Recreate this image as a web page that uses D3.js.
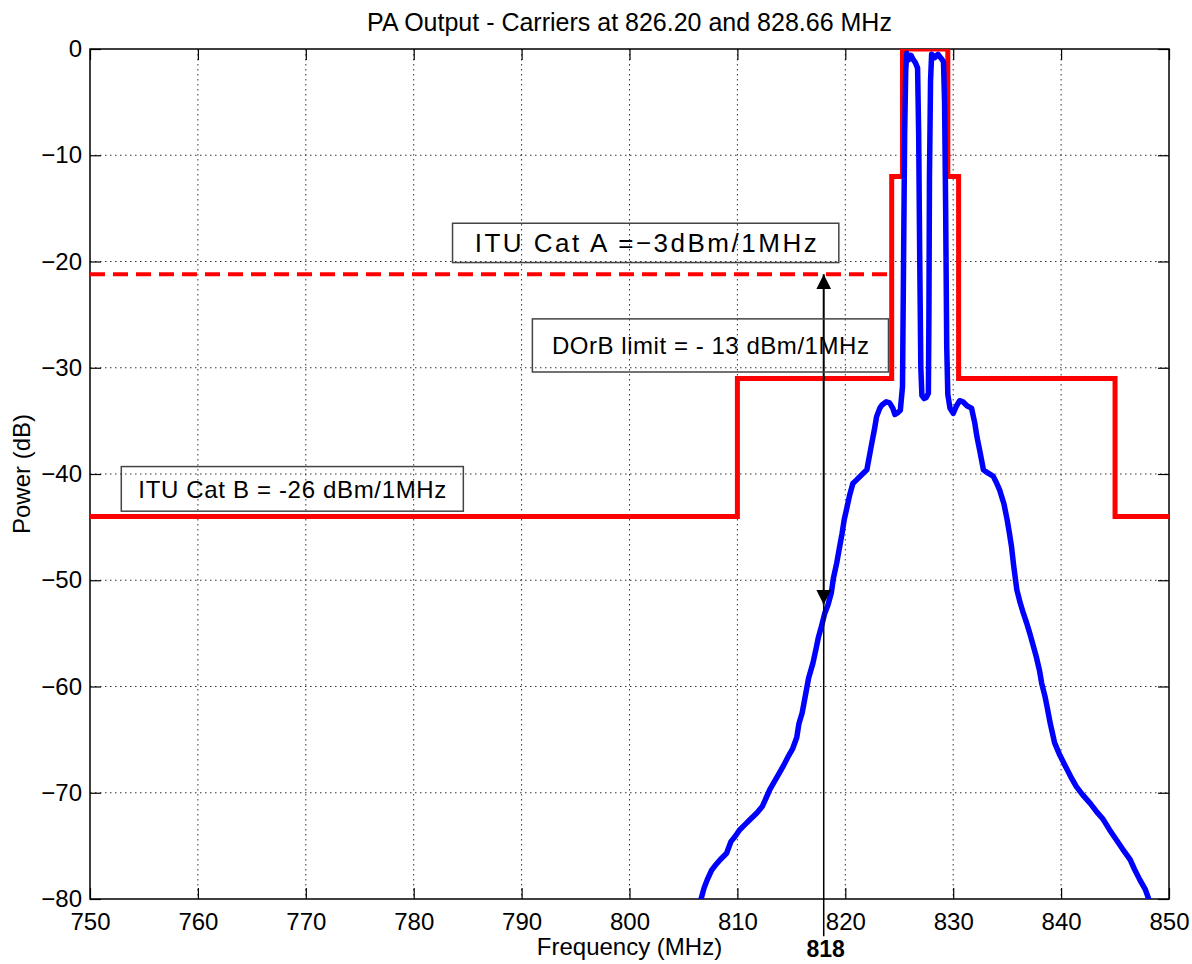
<!DOCTYPE html>
<html>
<head>
<meta charset="utf-8">
<script src="https://cdn.jsdelivr.net/npm/d3@7"></script>
<style>
 body { margin: 0; background: #fff; }
 svg { display: block; font-family: "Liberation Sans", Arial, sans-serif; }
 .axis text { font-size: 24px; fill: #000; }
 .axis line { stroke: #000; stroke-width: 1.2; }
 .grid line { stroke: #333; stroke-width: 1; stroke-dasharray: 1.5, 3.5; }
 .note { fill: none; stroke: #444; stroke-width: 1.5; }
</style>
</head>
<body>
<svg width="1192" height="964"></svg>
<script>
// x / y ticks
const freqTicks = [750, 760, 770, 780, 790, 800, 810, 820, 830, 840, 850];
const powerTicks = [-80, -70, -60, -50, -40, -30, -20, -10, 0];

// spectral mask (step after each breakpoint)
const maskFreq = [750, 810, 824.3, 825.3, 829.5, 830.5, 845, 850];
const maskLevel = [-44, -31, -12, 0, -12, -31, -44, -44];

// ITU cat A limit (dashed)
const catAFreq = [750, 824.2];
const catALevel = [-21.2, -21.2];

// measured PA output
const specFreq = [
 806.5, 806.9, 807.2, 807.6, 807.9, 808.4, 809.0, 809.4, 809.8, 810.2,
 810.7, 811.2, 811.8, 812.3, 812.7, 813.0, 813.4, 813.8, 814.3, 814.7,
 815.1, 815.5, 815.7, 816.0, 816.4, 816.6, 817.0, 817.3, 817.5, 817.8,
 818.1, 818.4, 818.7, 818.9, 819.2, 819.5, 819.7, 819.9, 820.1, 820.4,
 820.7, 821.0, 821.5, 822.0, 822.2, 822.4, 822.7, 822.9, 823.2, 823.4,
 823.8, 824.1, 824.4, 824.6, 824.9, 825.1, 825.3, 825.4, 825.5, 825.6,
 825.7, 825.9, 826.1, 826.3, 826.5, 826.7, 826.8, 826.9, 827.0, 827.1,
 827.3, 827.5, 827.7, 827.75, 827.8, 827.9, 828.0, 828.3, 828.6, 828.9,
 829.1, 829.2, 829.3, 829.4, 829.5, 829.7, 830.0, 830.3, 830.6, 830.9,
 831.3, 831.7, 832.0, 832.2, 832.5, 832.8, 833.2, 833.7, 834.0, 834.3,
 834.7, 835.0, 835.2, 835.4, 835.6, 835.9, 836.2, 836.5, 836.8, 837.1,
 837.4, 837.7, 838.0, 838.2, 838.5, 838.7, 839.0, 839.4, 839.9, 840.4,
 840.9, 841.4, 842.0, 842.7, 843.3, 843.9, 844.5, 845.1, 845.7, 846.4,
 846.8, 847.3, 847.8, 848.3
];
const specLevel = [
 -80.5, -79.0, -78.2, -77.3, -76.9, -76.3, -75.7, -74.6, -74.1, -73.5,
 -73.0, -72.5, -71.9, -71.3, -70.4, -69.7, -69.0, -68.3, -67.4, -66.6,
 -65.9, -64.8, -63.5, -62.5, -60.3, -59.2, -57.8, -56.4, -55.4, -54.3,
 -53.1, -52.3, -51.2, -49.8, -48.4, -46.7, -45.6, -44.3, -43.4, -42.0,
 -40.9, -40.6, -40.1, -39.6, -38.5, -37.4, -35.8, -34.6, -33.8, -33.5,
 -33.2, -33.3, -33.8, -34.4, -34.2, -34.0, -31.8, -20, -8, -2,
 -0.4, -1.0, -0.6, -1.0, -1.3, -1.8, -8, -20, -30, -32.6,
 -32.9, -32.8, -32.4, -25, -12, -3, -0.5, -0.8, -0.5, -0.9,
 -1.2, -5, -15, -28, -32.5, -33.8, -34.3, -33.6, -33.1, -33.2,
 -33.6, -33.8, -35.2, -36.5, -38.0, -39.6, -39.9, -40.2, -40.8, -41.5,
 -42.8, -44.3, -45.5, -46.8, -48.6, -50.9, -52.1, -53.1, -54.0, -55.0,
 -56.1, -57.2, -58.5, -59.7, -60.9, -61.9, -63.5, -65.3, -66.5, -67.5,
 -68.5, -69.4, -70.2, -71.0, -71.8, -72.5, -73.5, -74.4, -75.3, -76.3,
 -77.2, -78.2, -79.1, -80.5
];

// 818 MHz marker: arrow between cat A level and the curve
const markFreq = 818;
const markLevels = [-21.2, -52.3, -83.5];

const margin = { top: 49, right: 23, bottom: 65, left: 90 };
const width = 1192 - margin.left - margin.right;
const height = 964 - margin.top - margin.bottom;

const svg = d3.select("svg");

const x = d3.scaleLinear().domain([750, 850]).range([0, width]);
const y = d3.scaleLinear().domain([-80, 0]).range([height, 0]);

svg.append("defs")
 .append("clipPath")
 .attr("id", "plot")
 .append("rect")
 .attr("width", width)
 .attr("height", height);

const arrow = svg.select("defs")
 .append("marker")
 .attr("id", "head")
 .attr("markerUnits", "userSpaceOnUse")
 .attr("markerWidth", 16)
 .attr("markerHeight", 16)
 .attr("viewBox", "0 -8 16 16")
 .attr("refX", 15)
 .attr("refY", 0)
 .attr("orient", "auto-start-reverse");
arrow.append("path").attr("d", "M0,-7.5L15,0L0,7.5Z").attr("fill", "#000");

const chart = svg.append("g")
 .attr("transform", `translate(${margin.left},${margin.top})`);

// grid
chart.append("g")
 .attr("class", "grid")
 .selectAll("line")
 .data(freqTicks.slice(1, -1))
 .join("line")
 .attr("x1", d => x(d))
 .attr("x2", d => x(d))
 .attr("y1", 0)
 .attr("y2", height);

chart.append("g")
 .attr("class", "grid")
 .selectAll("line")
 .data(powerTicks.slice(1, -1))
 .join("line")
 .attr("x1", 0)
 .attr("x2", width)
 .attr("y1", d => y(d))
 .attr("y2", d => y(d));

// axes, ticks pointing inward
chart.append("g")
 .attr("class", "axis")
 .attr("transform", `translate(0,${height})`)
 .call(d3.axisBottom(x).tickValues(freqTicks).tickSizeInner(-11).tickSizeOuter(0).tickPadding(14))
 .call(g => g.select(".domain").remove());

chart.append("g")
 .attr("class", "axis")
 .call(d3.axisTop(x).tickValues(freqTicks).tickSizeInner(-11).tickSizeOuter(0).tickFormat(""))
 .call(g => g.select(".domain").remove());

chart.append("g")
 .attr("class", "axis")
 .call(d3.axisLeft(y).tickValues(powerTicks).tickSizeInner(-11).tickSizeOuter(0).tickPadding(8))
 .call(g => g.select(".domain").remove());

chart.append("g")
 .attr("class", "axis")
 .attr("transform", `translate(${width},0)`)
 .call(d3.axisRight(y).tickValues(powerTicks).tickSizeInner(-11).tickSizeOuter(0).tickFormat(""))
 .call(g => g.select(".domain").remove());

chart.append("rect")
 .attr("width", width)
 .attr("height", height)
 .attr("fill", "none")
 .attr("stroke", "#000")
 .attr("stroke-width", 1.5);

// data lines
const plot = chart.append("g").attr("clip-path", "url(#plot)");

const line = d3.line()
 .x(d => x(d[0]))
 .y(d => y(d[1]));

plot.append("path")
 .datum(d3.zip(catAFreq, catALevel))
 .attr("d", line)
 .attr("fill", "none")
 .attr("stroke", "#ff0000")
 .attr("stroke-width", 4)
 .attr("stroke-dasharray", "15,8");

plot.append("path")
 .datum(d3.zip(maskFreq, maskLevel))
 .attr("d", line.curve(d3.curveStepAfter))
 .attr("fill", "none")
 .attr("stroke", "#ff0000")
 .attr("stroke-width", 5);

plot.append("path")
 .datum(d3.zip(specFreq, specLevel))
 .attr("d", d3.line().x(d => x(d[0])).y(d => y(d[1])))
 .attr("fill", "none")
 .attr("stroke", "#0000ff")
 .attr("stroke-width", 5.5)
 .attr("stroke-linejoin", "round");

// 818 MHz arrow
chart.append("line")
 .attr("x1", x(markFreq))
 .attr("x2", x(markFreq))
 .attr("y1", y(markLevels[0]))
 .attr("y2", y(markLevels[1]))
 .attr("stroke", "#000")
 .attr("stroke-width", 2)
 .attr("marker-start", "url(#head)")
 .attr("marker-end", "url(#head)");

chart.append("line")
 .attr("x1", x(markFreq))
 .attr("x2", x(markFreq))
 .attr("y1", y(markLevels[1]))
 .attr("y2", y(markLevels[2]))
 .attr("stroke", "#000")
 .attr("stroke-width", 1.5);

chart.append("text")
 .attr("x", x(markFreq) + 2)
 .attr("y", y(markLevels[2]) + 21)
 .attr("text-anchor", "middle")
 .attr("font-size", 23)
 .attr("font-weight", "bold")
 .text(markFreq);

// annotation boxes [f0, f1, top dB, bottom dB]
const notes = [
 { text: "ITU Cat A =\u22123dBm/1MHz", box: [783.6, 819.4, -16.4, -20.1], size: 26, len: 342, stroke: "#000", sw: 2 },
 { text: "DOrB limit = - 13 dBm/1MHz", box: [791.0, 824.0, -25.4, -30.4], size: 24, len: 317, stroke: "#444", sw: 1.5 },
 { text: "ITU Cat B = -26 dBm/1MHz", box: [752.9, 784.6, -39.3, -43.5], size: 24, len: 308, stroke: "#444", sw: 1.5 }
];

const note = chart.selectAll(".noteg")
 .data(notes)
 .join("g");

note.append("rect")
 .attr("class", "note")
 .attr("x", d => x(d.box[0]))
 .attr("y", d => y(d.box[2]))
 .attr("width", d => x(d.box[1]) - x(d.box[0]))
 .attr("height", d => y(d.box[3]) - y(d.box[2]))
 .attr("stroke", d => d.stroke)
 .attr("stroke-width", d => d.sw);

note.append("text")
 .attr("x", d => (x(d.box[0]) + x(d.box[1])) / 2)
 .attr("y", d => (y(d.box[2]) + y(d.box[3])) / 2)
 .attr("dy", "0.36em")
 .attr("text-anchor", "middle")
 .attr("font-size", d => d.size)
 .attr("textLength", d => d.len)
 .attr("lengthAdjust", "spacing")
 .text(d => d.text);

// titles
svg.append("text")
 .attr("x", margin.left + width / 2)
 .attr("y", 31)
 .attr("text-anchor", "middle")
 .attr("font-size", 25)
 .text("PA Output - Carriers at 826.20 and 828.66 MHz");

svg.append("text")
 .attr("x", margin.left + width / 2)
 .attr("y", 955)
 .attr("text-anchor", "middle")
 .attr("font-size", 24)
 .text("Frequency (MHz)");

svg.append("text")
 .attr("transform", `translate(30,${margin.top + height / 2}) rotate(-90)`)
 .attr("text-anchor", "middle")
 .attr("font-size", 24)
 .text("Power (dB)");
</script>
</body>
</html>
